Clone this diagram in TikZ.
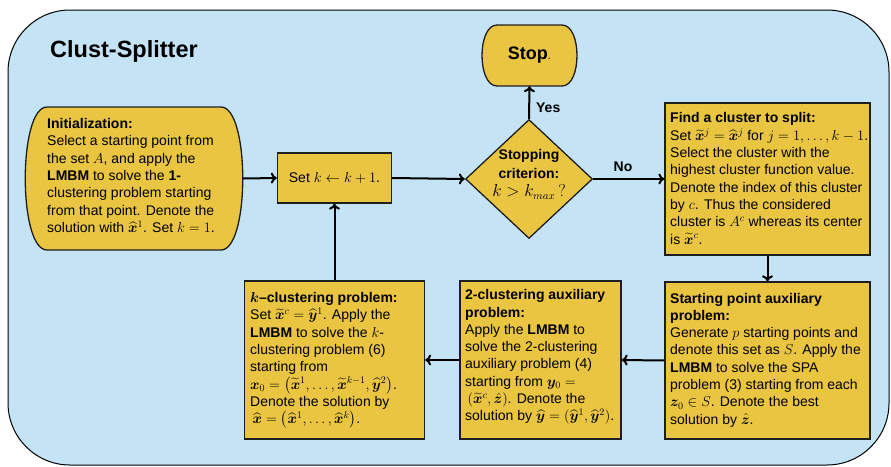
\documentclass[tikz,border=0pt]{standalone}
\usepackage[no-math]{fontspec}
\setmainfont{Liberation Sans}
\usepackage{amsmath,bm}
\usetikzlibrary{shapes.geometric,arrows.meta}
\definecolor{gold}{HTML}{EAC542}
\definecolor{sky}{HTML}{C4E4F5}
\definecolor{edge}{HTML}{1E1E1E}
\begin{document}
\begin{tikzpicture}[x=1pt,y=-1pt,
  box/.style={draw=edge, line width=1.3pt, fill=gold, inner sep=0pt, rectangle},
  ghost/.style={draw=none, inner sep=0pt, rectangle},
  shapeline/.style={draw=edge, line width=1.3pt, fill=gold},
  txt/.style={font=\fontsize{14}{17.3}\selectfont, align=left, inner sep=0pt, anchor=west},
  arr/.style={-{To[length=6pt,width=11pt]}, line width=2pt},
  lbl/.style={font=\fontsize{14}{17}\selectfont\bfseries, inner sep=0pt}]
\useasboundingbox (0,0) rectangle (891,466);
\draw[fill=sky, line width=1pt, rounded corners=62pt] (8,10) rectangle (889,465);

\node[font=\fontsize{23.5}{28}\selectfont\bfseries, anchor=base west, inner sep=0pt] (title) at (50,57) {Clust-Splitter};

% Initialization (terminator shape with bulging sides)
\node[ghost, minimum width=217pt, minimum height=143pt] (init) at (134.5,178.5) {};
\path[shapeline] (47,107) -- (221,107) .. controls (250,107) and (250,250) .. (221,250)
  -- (47,250) .. controls (18,250) and (18,107) .. (47,107) -- cycle;
\node[txt] (inittxt) at (47,175.5) {\textbf{Initialization:}\\
Select a starting point from\\
the set $A$, and apply the\\
\textbf{LMBM} to solve the \textbf{1-}\\
clustering problem starting\\
from that point. Denote the\\
solution with $\widehat{\bm{x}}^1$. Set $k=1$.};

% Set k
\node[box, minimum width=114pt, minimum height=50pt, font=\fontsize{14}{17}\selectfont] (setk) at (334.5,178) {Set $k \leftarrow k+1$.};

% Diamond
\node[diamond, draw=edge, line width=1.3pt, fill=gold, minimum width=127pt, minimum height=119pt, inner sep=0pt] (crit) at (529,179) {};
\node[font=\fontsize{14}{18.5}\selectfont, align=center, inner sep=0pt] (crittxt) at (529,174.5) {\textbf{Stopping}\\\textbf{criterion:}\\{\fontsize{16}{18}\selectfont$k > k_{max}\,?$}};

% Stop
\node[ghost, minimum width=95pt, minimum height=61pt] (stop) at (529.5,55.5) {};
\path[shapeline] (497,25) -- (562,25) .. controls (582,25) and (582,86) .. (562,86)
  -- (497,86) .. controls (477,86) and (477,25) .. (497,25) -- cycle;
\node[inner sep=0pt] (stoptxt) at (529.5,55.5) {{\fontsize{18}{20}\selectfont\textbf{Stop}}{\fontsize{11}{12}\selectfont.}};

% Find a cluster
\node[box, minimum width=205pt, minimum height=152pt] (find) at (767.5,179) {};
\node[txt] (findtxt) at (670,178.5) {\textbf{Find a cluster to split:}\\
Set $\widetilde{\bm{x}}^j = \widehat{\bm{x}}^j$ for $j = 1,\dots,k-1$.\\
Select the cluster with the\\
highest cluster function value.\\
Denote the index of this cluster\\
by $c$. Thus the considered\\
cluster is $A^c$ whereas its center\\
is $\widetilde{\bm{x}}^c$.};

% Starting point auxiliary problem
\node[box, minimum width=205pt, minimum height=157pt] (spa) at (767.5,360.5) {};
\node[txt] (spatxt) at (670,360) {\textbf{Starting point auxiliary}\\
\textbf{problem:}\\
Generate $p$ starting points and\\
denote this set as $S$. Apply the\\
\textbf{LMBM} to solve the SPA\\
problem (3) starting from each\\
$\bm{z}_0 \in S$. Denote the best\\
solution by $\hat{\bm{z}}$.};

% 2-clustering auxiliary problem
\node[box, minimum width=161pt, minimum height=158pt] (two) at (540.5,360) {};
\node[txt] (twotxt) at (465,357) {\textbf{2-clustering auxiliary}\\
\textbf{problem:}\\
Apply the \textbf{LMBM} to\\
solve the 2-clustering\\
auxiliary problem (4)\\
starting from $\bm{y}_0 =$\\
\,$(\widetilde{\bm{x}}^c, \hat{\bm{z}})$. Denote the\\
solution by $\widehat{\bm{y}} = (\widehat{\bm{y}}^1, \widehat{\bm{y}}^2)$.};

% k-clustering problem
\node[box, minimum width=180pt, minimum height=158pt] (kcl) at (334.5,360) {};
\node[txt] (kcltxt) at (250,360.5) {\textbf{$\bm{k}$--clustering problem:}\\
Set $\widetilde{\bm{x}}^c = \widehat{\bm{y}}^1$. Apply the\\
\textbf{LMBM} to solve the $k$-\\
clustering problem (6)\\
starting from\\
$\bm{x}_0 = \left(\widetilde{\bm{x}}^1, \dots, \widetilde{\bm{x}}^{k-1}, \widehat{\bm{y}}^2\right)$.\\
Denote the solution by\\
\,$\widehat{\bm{x}} = \left(\widehat{\bm{x}}^1, \dots, \widehat{\bm{x}}^k\right)$.};

% Connectors
\draw[arr] (init.east) -- (setk.west);
\draw[arr] (setk.east) -- (crit.west);
\draw[arr] (crit.north) -- node[lbl, anchor=west, pos=0.33, xshift=6pt] {Yes} (stop.south);
\draw[arr] (crit.east) -- node[lbl, above=6pt, pos=0.42] {No} (find.west);
\draw[arr] (find.south) -- (spa.north);
\draw[arr] (spa.west) -- (two.east);
\draw[arr] (two.west) -- (kcl.east);
\draw[arr] (kcl.north) -- (setk.south);
\end{tikzpicture}
\end{document}
